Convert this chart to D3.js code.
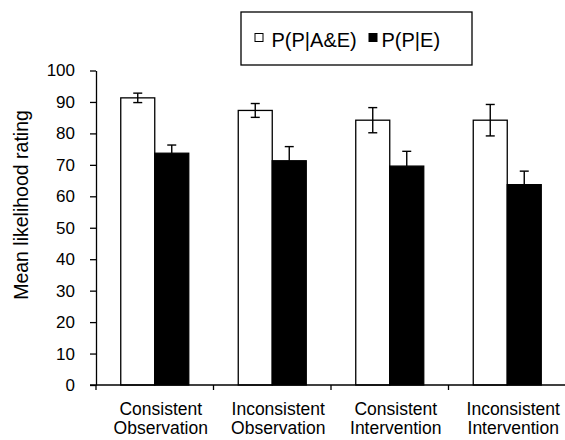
<!DOCTYPE html>
<html>
<head>
<meta charset="utf-8">
<script src="https://cdn.jsdelivr.net/npm/d3@7"></script>
<style>
  html, body { margin: 0; padding: 0; background: #fff; }
  svg { display: block; font-family: "Liberation Sans", Arial, sans-serif; }
</style>
</head>
<body>
<svg id="chart" width="565" height="440"></svg>
<script>
const categories = [["Consistent", "Observation"], ["Inconsistent", "Observation"], ["Consistent", "Intervention"], ["Inconsistent", "Intervention"]];
const seriesNames = ["P(P|A&E)", "P(P|E)"];
const valuesAE = [91.3, 87.3, 84.2, 84.2];
const errorsAE = [1.5, 2.2, 4.0, 5.0];
const valuesE = [73.7, 71.3, 69.6, 63.7];
const errorsE = [2.6, 4.5, 4.7, 4.3];
const yTicks = [0, 10, 20, 30, 40, 50, 60, 70, 80, 90, 100];

const svg = d3.select("#chart");
const x0 = 96, x1 = 566, yTop = 70.5, yBot = 385;

const x = d3.scaleBand().domain(d3.range(categories.length)).range([x0, x1]).paddingInner(0).paddingOuter(0);
const xs = d3.scaleBand().domain([0, 1]).range([0, x.bandwidth()]).paddingInner(0).paddingOuter(0.728);
const y = d3.scaleLinear().domain([0, 100]).range([yBot, yTop]);

const series = [
  { vals: valuesAE, errs: errorsAE, fill: "#fff", both: true },
  { vals: valuesE, errs: errorsE, fill: "#000", both: false }
];

// bars
series.forEach((s, si) => {
  svg.append("g").selectAll("rect").data(s.vals).join("rect")
    .attr("x", (d, i) => x(i) + xs(si))
    .attr("y", d => y(d))
    .attr("width", xs.bandwidth())
    .attr("height", d => y(0) - y(d))
    .attr("fill", s.fill)
    .attr("stroke", "#000")
    .attr("stroke-width", 1.3);
});

// error bars
const cap = 4.5;
series.forEach((s, si) => {
  const g = svg.append("g").attr("stroke", "#000").attr("stroke-width", 1.4);
  s.vals.forEach((v, i) => {
    const cx = x(i) + xs(si) + xs.bandwidth() / 2;
    const hi = y(v + s.errs[i]);
    const lo = s.both ? y(v - s.errs[i]) : y(v);
    g.append("line").attr("x1", cx).attr("x2", cx).attr("y1", hi).attr("y2", lo);
    g.append("line").attr("x1", cx - cap).attr("x2", cx + cap).attr("y1", hi).attr("y2", hi);
    if (s.both) g.append("line").attr("x1", cx - cap).attr("x2", cx + cap).attr("y1", lo).attr("y2", lo);
  });
});

// y axis
const yAxis = d3.axisLeft(y).tickValues(yTicks).tickSize(6).tickPadding(15).tickSizeOuter(0);
const gy = svg.append("g").attr("transform", `translate(${x0},0)`).call(yAxis);
gy.select(".domain").attr("stroke-width", 1.3);
gy.selectAll(".tick line").attr("stroke-width", 1.3);
gy.selectAll(".tick text").attr("font-size", 17).attr("font-family", "Liberation Sans, Arial, sans-serif").attr("fill", "#000");

// x axis line and ticks at category boundaries
const gx = svg.append("g").attr("stroke", "#000").attr("stroke-width", 1.3);
gx.append("line").attr("x1", x0 - 6).attr("x2", 565).attr("y1", y(0)).attr("y2", y(0));
d3.range(categories.length).forEach(i => {
  const bx = x(i);
  gx.append("line").attr("x1", bx).attr("x2", bx).attr("y1", y(0)).attr("y2", y(0) + 5);
});

// category labels
const gl = svg.append("g").attr("font-size", 17.5).attr("text-anchor", "middle").attr("fill", "#000");
categories.forEach((c, i) => {
  const cx = x(i) + x.bandwidth() / 2 + 6;
  c.forEach((line, li) => {
    gl.append("text").attr("x", cx).attr("y", 415 + li * 18.5).text(line);
  });
});

// y title
svg.append("text")
  .attr("transform", "translate(28,205) rotate(-90)")
  .attr("text-anchor", "middle")
  .attr("font-size", 19.5)
  .attr("fill", "#000")
  .text("Mean likelihood rating");

// legend
const lg = svg.append("g");
lg.append("rect").attr("x", 241).attr("y", 12).attr("width", 231).attr("height", 53)
  .attr("fill", "#fff").attr("stroke", "#000").attr("stroke-width", 1.3);
const legX = [255, 369];
const legTx = [271.5, 381.5];
seriesNames.forEach((n, i) => {
  lg.append("rect").attr("x", legX[i]).attr("y", 33.5).attr("width", 8).attr("height", 8)
    .attr("fill", series[i].fill).attr("stroke", "#000").attr("stroke-width", 1);
  lg.append("text").attr("x", legTx[i]).attr("y", 46.5).attr("font-size", 20).attr("fill", "#000").text(n);
});
</script>
</body>
</html>
